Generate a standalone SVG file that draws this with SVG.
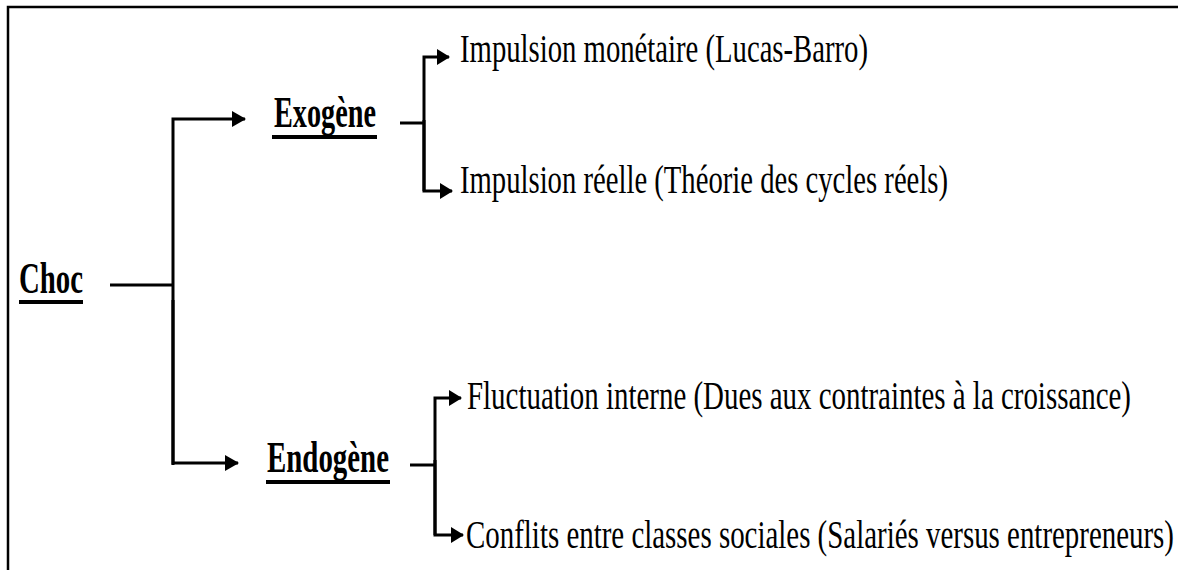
<svg xmlns="http://www.w3.org/2000/svg" width="1178" height="570" viewBox="0 0 1178 570">
<defs>
<marker id="ah" markerUnits="userSpaceOnUse" markerWidth="14" markerHeight="16" refX="13" refY="8" orient="auto">
<path d="M0,0 L14,8 L0,16 Z" fill="#000"/>
</marker>
<marker id="ahs" markerUnits="userSpaceOnUse" markerWidth="13" markerHeight="16" refX="12" refY="8" orient="auto">
<path d="M0,0 L13,8 L0,16 Z" fill="#000"/>
</marker>
</defs>
<style>
.bold{font-family:"Liberation Serif","Times New Roman",serif;font-weight:bold;font-size:44px;fill:#000}
.reg{font-family:"Liberation Serif","Times New Roman",serif;font-size:41px;fill:#000}
.ul{stroke:#000;stroke-width:4}
.ln{fill:none;stroke:#000;stroke-width:3}
</style>
<rect width="1178" height="570" fill="#fff"/>
<path d="M8,570 V7 H1178" fill="none" stroke="#000" stroke-width="2.5"/>
<g id="choc">
<text class="bold" x="19" y="293" textLength="64" lengthAdjust="spacingAndGlyphs">Choc</text>
<line class="ul" x1="19" y1="302" x2="83" y2="302"/>
</g>
<g id="exogene">
<text class="bold" x="274" y="127" textLength="102" lengthAdjust="spacingAndGlyphs">Exogène</text>
<line class="ul" x1="272" y1="137" x2="377" y2="137"/>
</g>
<g id="endogene">
<text class="bold" x="267" y="472" textLength="122" lengthAdjust="spacingAndGlyphs">Endogène</text>
<line class="ul" x1="266" y1="482" x2="390" y2="482"/>
</g>
<g id="impulsion-monetaire">
<text class="reg" x="460" y="62" textLength="408" lengthAdjust="spacingAndGlyphs">Impulsion monétaire (Lucas-Barro)</text>
</g>
<g id="impulsion-reelle">
<text class="reg" x="460" y="193" textLength="488" lengthAdjust="spacingAndGlyphs">Impulsion réelle (Théorie des cycles réels)</text>
</g>
<g id="fluctuation">
<text class="reg" x="467" y="409" textLength="664" lengthAdjust="spacingAndGlyphs">Fluctuation interne (Dues aux contraintes à la croissance)</text>
</g>
<g id="conflits">
<text class="reg" x="466" y="548" textLength="708" lengthAdjust="spacingAndGlyphs">Conflits entre classes sociales (Salariés versus entrepreneurs)</text>
</g>
<g id="connectors">
<line class="ln" x1="110" y1="285" x2="173" y2="285"/>
<path class="ln" d="M173,465 V119 H245" marker-end="url(#ah)"/>
<path class="ln" d="M173,300 V463 H238" marker-end="url(#ah)"/>
<line class="ln" x1="400" y1="123" x2="424" y2="123"/>
<path class="ln" d="M424,191 V57 H449" marker-end="url(#ahs)"/>
<path class="ln" d="M424,120 V191 H452" marker-end="url(#ahs)"/>
<line class="ln" x1="410" y1="465" x2="435" y2="465"/>
<path class="ln" d="M435,535 V398 H461" marker-end="url(#ahs)"/>
<path class="ln" d="M435,460 V535 H463" marker-end="url(#ahs)"/>
</g>
</svg>
